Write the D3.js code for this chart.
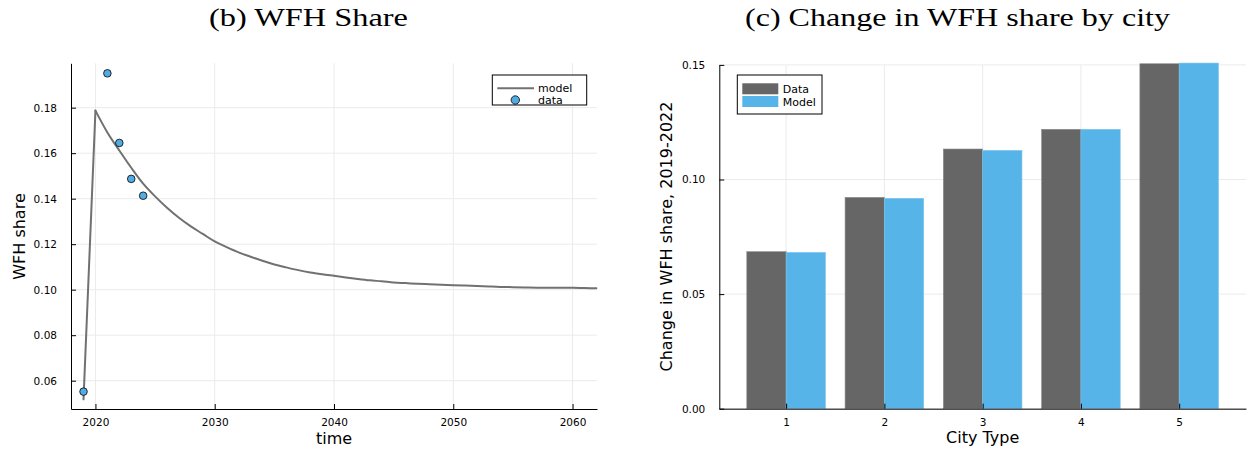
<!DOCTYPE html>
<html>
<head>
<meta charset="utf-8">
<script src="https://cdn.jsdelivr.net/npm/d3@7"></script>
<style>
  html, body { margin: 0; padding: 0; background: #fff; }
  svg { display: block; }
  text { font-family: "DejaVu Sans", sans-serif; fill: #000; }
</style>
</head>
<body>
<svg id="chart" width="1255" height="452"></svg>
<script>
// ---------- Data ----------
// Panel (b): WFH share over time
const modelYears = [2019,2020,2021,2022,2023,2024,2025,2026,2027,2028,2029,2030,2031,2032,2033,2034,2035,2036,2037,2038,2039,2040,2041,2042,2043,2044,2045,2046,2047,2048,2049,2050,2051,2052,2053,2054,2055,2056,2057,2058,2059,2060,2061,2062];
const modelShare = [0.0518,0.1787,0.1691,0.1612,0.1536,0.1466,0.1410,0.1360,0.1316,0.1278,0.1245,0.1212,0.1187,0.1164,0.1145,0.1127,0.1111,0.1098,0.1086,0.1076,0.1068,0.1061,0.1054,0.1047,0.1041,0.1037,0.1032,0.1029,0.1026,0.1024,0.1022,0.1020,0.1018,0.1016,0.1014,0.1012,0.1011,0.1010,0.1009,0.1009,0.1008,0.1008,0.1007,0.1006];
const dataYears = [2019, 2021, 2022, 2023, 2024];
const dataShare = [0.0552, 0.1951, 0.1645, 0.1487, 0.1413];
const xTicksB = [2020, 2030, 2040, 2050, 2060];
const yTicksB = [0.06, 0.08, 0.10, 0.12, 0.14, 0.16, 0.18];

// Panel (c): change in WFH share by city type
const cityTypes = [1, 2, 3, 4, 5];
const changeData = [0.0685, 0.0922, 0.1133, 0.1219, 0.1505];
const changeModel = [0.0682, 0.0918, 0.1127, 0.1219, 0.1508];
const yTicksC = [0.00, 0.05, 0.10, 0.15];

// ---------- Styles ----------
const gridColor = "#ebebeb";
const lineColor = "#717171";
const dotColor = "#52ace2";
const barDark = "#666666";
const barBlue = "#56b4e8";
const tickFont = 10.5;

const svg = d3.select("#chart");

// ---------- Panel (b) ----------
const xB = d3.scaleLinear().domain([2017.95, 2062.05]).range([71, 597]);
const yB = d3.scaleLinear().domain([0.04756, 0.1995]).range([409, 63.3]);

const gB = svg.append("g");

// grid
gB.append("g").selectAll("line").data(xTicksB).join("line")
  .attr("x1", d => xB(d)).attr("x2", d => xB(d))
  .attr("y1", yB.range()[0]).attr("y2", yB.range()[1])
  .attr("stroke", gridColor).attr("stroke-width", 1);
gB.append("g").selectAll("line").data(yTicksB).join("line")
  .attr("x1", xB.range()[0]).attr("x2", xB.range()[1])
  .attr("y1", d => yB(d)).attr("y2", d => yB(d))
  .attr("stroke", gridColor).attr("stroke-width", 1);

// axes
const axBx = d3.axisBottom(xB).tickValues(xTicksB).tickFormat(d3.format("d")).tickSizeInner(-5).tickSizeOuter(0).tickPadding(10);
gB.append("g").attr("transform", `translate(0,${yB.range()[0]})`).call(axBx);
const axBy = d3.axisLeft(yB).tickValues(yTicksB).tickFormat(d3.format(".2f")).tickSizeInner(-5).tickSizeOuter(0).tickPadding(14);
gB.append("g").attr("transform", `translate(${xB.range()[0]},0)`).call(axBy);

// model line: sharp jump 2019->2020, smooth decay afterwards
const pts = modelShare.map((v, i) => [modelYears[i], v]);
const lineLin = d3.line().x(d => xB(d[0])).y(d => yB(d[1]));
const lineSmooth = d3.line().x(d => xB(d[0])).y(d => yB(d[1])).curve(d3.curveMonotoneX);
gB.append("path").datum(pts.slice(0, 2))
  .attr("d", lineLin).attr("fill", "none")
  .attr("stroke", lineColor).attr("stroke-width", 2).attr("stroke-linecap", "round");
gB.append("path").datum(pts.slice(1))
  .attr("d", lineSmooth).attr("fill", "none")
  .attr("stroke", lineColor).attr("stroke-width", 2).attr("stroke-linecap", "round");

// data points
gB.append("g").selectAll("circle").data(dataShare).join("circle")
  .attr("cx", (d, i) => xB(dataYears[i])).attr("cy", d => yB(d))
  .attr("r", 3.8).attr("fill", dotColor).attr("stroke", "#000").attr("stroke-width", 0.8);

// labels
gB.append("text").attr("x", (xB.range()[0] + xB.range()[1]) / 2).attr("y", 444)
  .attr("text-anchor", "middle").style("font-size", "16px").text("time");
gB.append("text").attr("transform", "translate(25,236.5) rotate(-90)")
  .attr("text-anchor", "middle").style("font-size", "16px").text("WFH share");

// legend
const legB = gB.append("g");
legB.append("rect").attr("x", 492.3).attr("y", 75).attr("width", 94.4).attr("height", 30)
  .attr("fill", "#fff").attr("stroke", "#000").attr("stroke-width", 1);
legB.append("line").attr("x1", 497.3).attr("x2", 534).attr("y1", 88.3).attr("y2", 88.3)
  .attr("stroke", lineColor).attr("stroke-width", 2);
legB.append("circle").attr("cx", 515.3).attr("cy", 100).attr("r", 4.2)
  .attr("fill", dotColor).attr("stroke", "#000").attr("stroke-width", 0.8);
legB.append("text").attr("x", 538).attr("y", 92).style("font-size", "11px").text("model");
legB.append("text").attr("x", 538).attr("y", 104).style("font-size", "11px").text("data");

// ---------- Panel (c) ----------
const xC = d3.scaleLinear().domain([0.32, 5.68]).range([719.3, 1246]);
const yC = d3.scaleLinear().domain([0, 0.15]).range([408.7, 64.9]);
const barW = 0.4;

const gC = svg.append("g");

gC.append("g").selectAll("line").data(cityTypes).join("line")
  .attr("x1", d => xC(d)).attr("x2", d => xC(d))
  .attr("y1", yC.range()[0]).attr("y2", yC.range()[1])
  .attr("stroke", gridColor).attr("stroke-width", 1);
gC.append("g").selectAll("line").data(yTicksC).join("line")
  .attr("x1", xC.range()[0]).attr("x2", xC.range()[1])
  .attr("y1", d => yC(d)).attr("y2", d => yC(d))
  .attr("stroke", gridColor).attr("stroke-width", 1);

// bars
gC.append("g").selectAll("rect").data(changeData).join("rect")
  .attr("x", (d, i) => xC(cityTypes[i] - barW))
  .attr("width", (d, i) => xC(cityTypes[i]) - xC(cityTypes[i] - barW))
  .attr("y", d => yC(d)).attr("height", d => yC(0) - yC(d))
  .attr("fill", barDark).attr("stroke", "#8a8a8a").attr("stroke-width", 0.6);
gC.append("g").selectAll("rect").data(changeModel).join("rect")
  .attr("x", (d, i) => xC(cityTypes[i]))
  .attr("width", (d, i) => xC(cityTypes[i] + barW) - xC(cityTypes[i]))
  .attr("y", d => yC(d)).attr("height", d => yC(0) - yC(d))
  .attr("fill", barBlue).attr("stroke", "#7cc4ee").attr("stroke-width", 0.6);

const axCx = d3.axisBottom(xC).tickValues(cityTypes).tickFormat(d3.format("d")).tickSizeInner(-5).tickSizeOuter(0).tickPadding(10);
gC.append("g").attr("transform", `translate(0,${yC.range()[0]})`).call(axCx);
const axCy = d3.axisLeft(yC).tickValues(yTicksC).tickFormat(d3.format(".2f")).tickSizeInner(-5).tickSizeOuter(0).tickPadding(14);
gC.append("g").attr("transform", `translate(${xC.range()[0]},0)`).call(axCy);

gC.append("text").attr("x", (xC.range()[0] + xC.range()[1]) / 2).attr("y", 443)
  .attr("text-anchor", "middle").style("font-size", "16px").text("City Type");
gC.append("text").attr("transform", "translate(672,236.5) rotate(-90)")
  .attr("text-anchor", "middle").style("font-size", "16px").text("Change in WFH share, 2019-2022");

// legend
const legC = gC.append("g");
legC.append("rect").attr("x", 737.3).attr("y", 75).attr("width", 84.7).attr("height", 39)
  .attr("fill", "#fff").attr("stroke", "#000").attr("stroke-width", 1);
legC.append("rect").attr("x", 742.3).attr("y", 83.3).attr("width", 36).attr("height", 11).attr("fill", barDark);
legC.append("rect").attr("x", 742.3).attr("y", 96).attr("width", 36).attr("height", 11).attr("fill", barBlue);
legC.append("text").attr("x", 782.7).attr("y", 93).style("font-size", "11px").text("Data");
legC.append("text").attr("x", 782.7).attr("y", 106).style("font-size", "11px").text("Model");

// axis styling
svg.selectAll(".domain").attr("stroke", "#000").attr("stroke-width", 1);
svg.selectAll(".tick line").attr("stroke", "#000").attr("stroke-width", 1);
svg.selectAll(".tick text").style("font-size", tickFont + "px").style("font-family", "DejaVu Sans, sans-serif").attr("fill", "#000");

// titles
svg.append("text").attr("x", 308.5).attr("y", 26).attr("text-anchor", "middle")
  .style("font-family", "Liberation Serif, serif").style("font-size", "25px")
  .attr("textLength", 199).attr("lengthAdjust", "spacingAndGlyphs").text("(b) WFH Share");
svg.append("text").attr("x", 957.5).attr("y", 26).attr("text-anchor", "middle")
  .style("font-family", "Liberation Serif, serif").style("font-size", "25px")
  .attr("textLength", 425).attr("lengthAdjust", "spacingAndGlyphs").text("(c) Change in WFH share by city");
</script>
</body>
</html>
